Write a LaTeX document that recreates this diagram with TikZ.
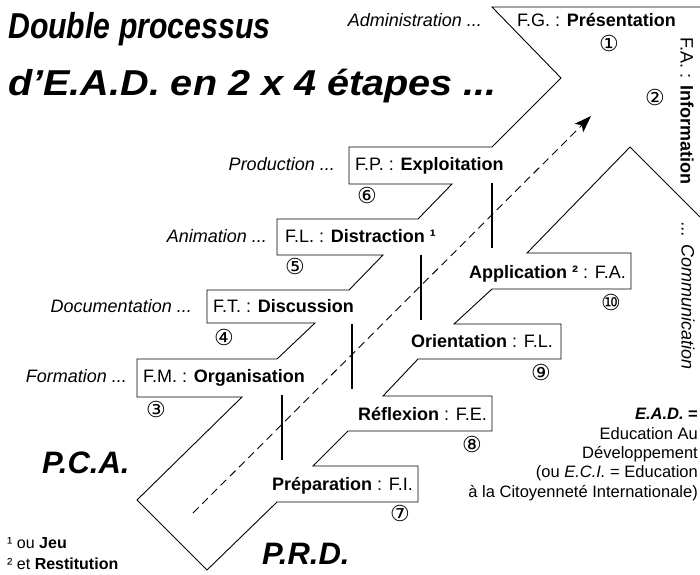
\documentclass[tikz,border=0pt]{standalone}
\usepackage{fontspec}
\usepackage{graphicx}
\setmainfont{Liberation Sans}
\newfontfamily\numfont{DejaVu Sans}
\usetikzlibrary{arrows.meta}
\begin{document}
\begin{tikzpicture}[x=1pt,y=-1pt,
  outline/.style={draw=black, line width=0.9pt, line join=miter},
  divider/.style={draw=black, line width=2.6pt},
  flow/.style={draw=black, line width=0.9pt, dash pattern=on 8pt off 5pt, -{Stealth[length=17pt,width=12pt,inset=4pt]}},
  lab/.style={font=\fontsize{18}{21}\selectfont, inner sep=0pt},
  ital/.style={font=\fontsize{18}{21}\selectfont\itshape, inner sep=0pt},
  num/.style={font=\fontsize{22}{24}\selectfont\numfont, inner sep=0pt},
  big/.style={font=\fontsize{31}{34}\selectfont\bfseries\itshape, inner sep=0pt},
  titl/.style={font=\fontsize{36}{40}\selectfont\bfseries\itshape, inner sep=0pt},
  note/.style={font=\fontsize{16.5}{19}\selectfont, inner sep=0pt, anchor=base east},
  foot/.style={font=\fontsize{16}{19}\selectfont, inner sep=0pt, anchor=base west}]
\fill[white] (0,0) rectangle (700,574);
\useasboundingbox (0,0) rectangle (700,574);

% staircase outline
\draw[outline] (700,7) -- (492,7) -- (561,78) -- (492,147) -- (349,147) -- (349,184)
  -- (452,184) -- (418,219) -- (277,219) -- (277,255) -- (383,255) -- (349,290)
  -- (207,290) -- (207,323) -- (315,323) -- (277,359) -- (137,359) -- (137,397)
  -- (242,397) -- (137,500) -- (207,570) -- (277,502) -- (418,502) -- (418,466)
  -- (313,466) -- (348,431) -- (492,431) -- (492,396) -- (383,396) -- (418,359)
  -- (561,359) -- (561,324) -- (454,324) -- (492,289) -- (631,289) -- (631,253)
  -- (527,253) -- (630,147) -- (700,217);

% dividers
\draw[divider] (282,395) -- (282,460);
\draw[divider] (352,324) -- (352,389);
\draw[divider] (421,255) -- (421,320);
\draw[divider] (492,183) -- (492,248);

% dashed arrow
\coordinate (arrS) at (193,513);
\coordinate (arrE) at (591,116);
\draw[flow] (arrS) -- (arrE);

% title
\node[titl, anchor=base west] (title1) at (8,38) {\scalebox{0.84}[1]{Double processus}};
\node[titl, anchor=base west] (title2) at (8,95) {\scalebox{1.1}[1]{d’E.A.D. en 2 x 4 étapes ...}};

% left italic labels
\node[ital, anchor=base east] (adm) at (482,26) {Administration ...};
\node[ital, anchor=base east] (prod) at (335,170) {Production ...};
\node[ital, anchor=base east] (anim) at (267,242) {Animation ...};
\node[ital, anchor=base east] (docu) at (192,312) {Documentation ...};
\node[ital, anchor=base east] (form) at (127,382) {Formation ...};

% upper boxes
\node[lab, anchor=base west] (fg) at (517,26) {F.G. : \textbf{Présentation}};
\node[lab, rotate=-90] (fa) at (687,111) {F.A. : \textbf{Information}};
\node[ital, rotate=-90] (comm) at (688,296) {... Communication};
\node[lab, anchor=base west] (fp) at (355,170) {F.P. : \textbf{Exploitation}};
\node[lab, anchor=base west] (fl) at (285,242) {F.L. : \textbf{Distraction ¹}};
\node[lab, anchor=base west] (ft) at (213,312) {F.T. : \textbf{Discussion}};
\node[lab, anchor=base west] (fm) at (143,382) {F.M. : \textbf{Organisation}};

% lower boxes
\node[lab, anchor=base east] (prep) at (413,490) {\textbf{Préparation} : F.I.};
\node[lab, anchor=base east] (refl) at (487,420) {\textbf{Réflexion} : F.E.};
\node[lab, anchor=base east] (orie) at (553,347) {\textbf{Orientation} : F.L.};
\node[lab, anchor=base east] (appl) at (626,278) {\textbf{Application ²} : F.A.};

% numbers
\node[num] (n1) at (609,43) {①};
\node[num] (n2) at (655,97) {②};
\node[num] (n3) at (156,409) {③};
\node[num] (n4) at (224,337) {④};
\node[num] (n5) at (295,266) {⑤};
\node[num] (n6) at (367,195) {⑥};
\node[num] (n7) at (400,513) {⑦};
\node[num] (n8) at (472,444) {⑧};
\node[num] (n9) at (541,372) {⑨};
\node[num] (n10) at (611,302) {⑩};

% big labels
\node[big, anchor=base west] (pca) at (42,473) {P.C.A.};
\node[big, anchor=base west] (prd) at (262,564) {P.R.D.};

% footnotes
\node[foot] (f1) at (7,548) {¹ ou \textbf{Jeu}};
\node[foot] (f2) at (7,569) {² et \textbf{Restitution}};

% E.A.D. note
\node[note] (e1) at (698,419) {\textbf{\textit{E.A.D.} =}};
\node[note] (e2) at (698,439) {Education Au};
\node[note] (e3) at (698,458) {Développement};
\node[note] (e4) at (698,477) {(ou \textit{E.C.I.} = Education};
\node[note] (e5) at (698,497) {à la Citoyenneté Internationale)};
\end{tikzpicture}
\end{document}
